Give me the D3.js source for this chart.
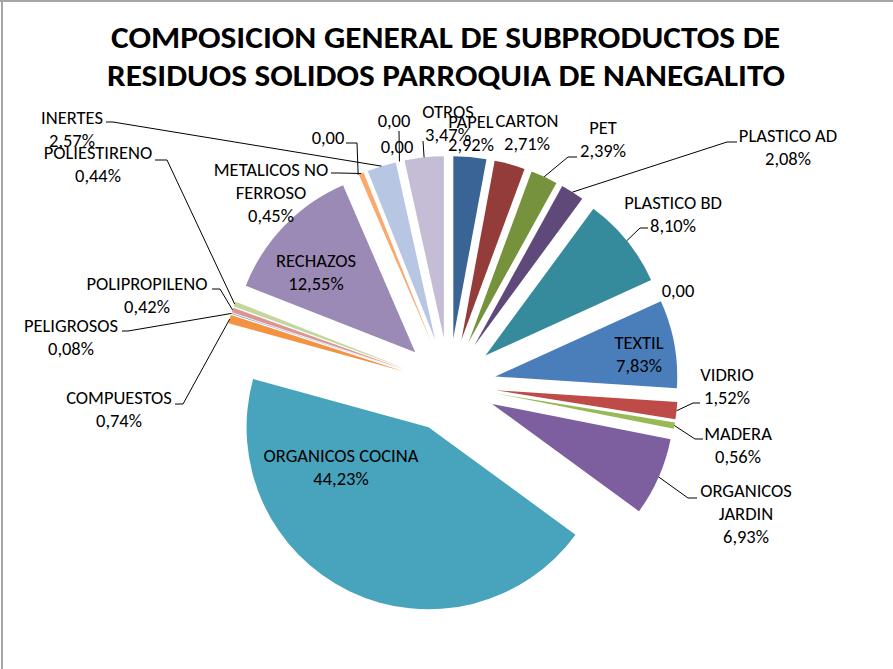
<!DOCTYPE html>
<html><head><meta charset="utf-8">
<script src="https://cdn.jsdelivr.net/npm/d3@7"></script>
<style>body{margin:0;background:#fff}svg{display:block}</style>
</head><body><svg id="c" width="893" height="669"></svg>
<script>
// ---- data ----
const categories = ["PAPEL","CARTON","PET","PLASTICO AD","PLASTICO BD","","TEXTIL","VIDRIO","MADERA","ORGANICOS JARDIN","ORGANICOS COCINA","COMPUESTOS","PELIGROSOS","POLIPROPILENO","POLIESTIRENO","RECHAZOS","","METALICOS NO FERROSO","INERTES","","","OTROS"];
const values = [2.92,2.71,2.39,2.08,8.10,0,7.83,1.52,0.56,6.93,44.23,0.74,0.08,0.42,0.44,12.55,0,0.45,2.57,0,0,3.47];
const titleLines = ["COMPOSICION GENERAL DE SUBPRODUCTOS DE","RESIDUOS SOLIDOS PARROQUIA DE NANEGALITO"];

// ---- styles / layout ----
const colors = ["#3B6496","#943C39","#76923C","#5F497A","#358A9B","#E46C0A","#4A7EBB","#BE4B48","#98B954","#7D5FA0","#48A3BC","#F39241","#95B3D7","#D99694","#C3D69B","#9B8AB6","#93CDDD","#F9A86E","#B7C6E3","#E6B9B8","#D7E4BD","#C5BCD6"];
const labelPos = [
 {x:471,y:122},
 {x:527,y:121},
 {x:603,y:128, lead:[[577,157],[568,157]]},
 {x:788,y:136, lead:[[737,142],[727,142]]},
 {x:673,y:203, lead:[[648,228],[640,228]]},
 {x:678,y:291},
 {x:639,y:343},
 {x:727,y:375, lead:[[700,403],[693,403]]},
 {x:738,y:434, lead:[[703,439],[695,439]]},
 {x:746,y:491, wrap:1, lead:[[697,498],[688,498]]},
 {x:341,y:456},
 {x:119,y:398, lead:[[175,404],[183,404]]},
 {x:71,y:326, lead:[[122,331],[128,331]]},
 {x:147,y:284, lead:[[212,289],[220,289]]},
 {x:98,y:153, lead:[[155,160],[167,160]]},
 {x:316,y:261},
 {x:328,y:138, lead:[[346,143],[357,143]]},
 {x:271,y:170, wrap:2, lead:[[331,173],[339,173]]},
 {x:72,y:118, lead:[[106,122],[113,122]]},
 {x:394,y:121, lead:[[399,131]]},
 {x:397,y:147},
 {x:448,y:112, lead:[[423,141]]}
];
const W=893,H=669, cx=449, cy=385, R=182, explode=47, lineH=22.7;
const fontFam = "Carlito, Lato, 'Open Sans', sans-serif";

const svg = d3.select("#c");
svg.append("rect").attr("width",W).attr("height",H).attr("fill","#fff");
svg.append("line").attr("x1",2).attr("x2",2).attr("y1",0).attr("y2",H).attr("stroke","#A6A6A6").attr("stroke-width",2);
svg.append("line").attr("x1",0).attr("x2",W).attr("y1",1).attr("y2",1).attr("stroke","#A6A6A6").attr("stroke-width",2);

// title
const titleX = [[111,780],[107,785]], titleY=[48,86];
titleLines.forEach((t,i)=>{
  svg.append("text").attr("x",titleX[i][0]).attr("y",titleY[i])
    .attr("font-family",fontFam).attr("font-weight","bold").attr("font-size",31)
    .attr("textLength",titleX[i][1]-titleX[i][0]).attr("lengthAdjust","spacingAndGlyphs")
    .attr("fill","#000").text(t);
});

// pie
const pie = d3.pie().sort(null).value(d=>d).startAngle(0).endAngle(2*Math.PI);
const arcs = pie(values);
const arc = d3.arc().innerRadius(0).outerRadius(R);
const dir = a => [Math.sin(a), -Math.cos(a)];
const g = svg.append("g").attr("transform",`translate(${cx},${cy})`);
g.selectAll("path").data(arcs.filter(d=>d.value>0)).join("path")
  .attr("d",arc)
  .attr("fill",d=>colors[d.index])
  .attr("transform",d=>{const m=(d.startAngle+d.endAngle)/2, u=dir(m); return `translate(${u[0]*explode},${u[1]*explode})`;});

// font size calibration
const probe = svg.append("text").attr("font-family",fontFam).attr("font-size",100).text("ORGANICOS COCINA");
const fs = 155/probe.node().getComputedTextLength()*100;
probe.remove();

// leader lines
const line = d3.line();
arcs.forEach((d,i)=>{
  const L = labelPos[i];
  if(!L.lead) return;
  const m=(d.startAngle+d.endAngle)/2, u=dir(m);
  const end=[cx+u[0]*(R+explode), cy+u[1]*(R+explode)];
  svg.append("path").attr("d",line([...L.lead,end])).attr("fill","none").attr("stroke","#000").attr("stroke-width",1);
});

// labels
arcs.forEach((d,i)=>{
  const L = labelPos[i];
  const v = values[i];
  const val = v===0 ? "0,00" : v.toFixed(2).replace(".",",")+"%";
  let lines = [];
  if(v!==0){
    const words = categories[i].split(" ");
    if(L.wrap){ lines.push(words.slice(0,L.wrap).join(" ")); lines.push(words.slice(L.wrap).join(" ")); }
    else lines.push(categories[i]);
  }
  lines.push(val);
  const t = svg.append("text").attr("font-family",fontFam).attr("font-size",fs).attr("fill","#000").attr("text-anchor","middle");
  lines.forEach((s,k)=>{
    t.append("tspan").attr("x",L.x).attr("y",L.y+k*lineH+fs*0.35).text(s);
  });
});
</script></body></html>
